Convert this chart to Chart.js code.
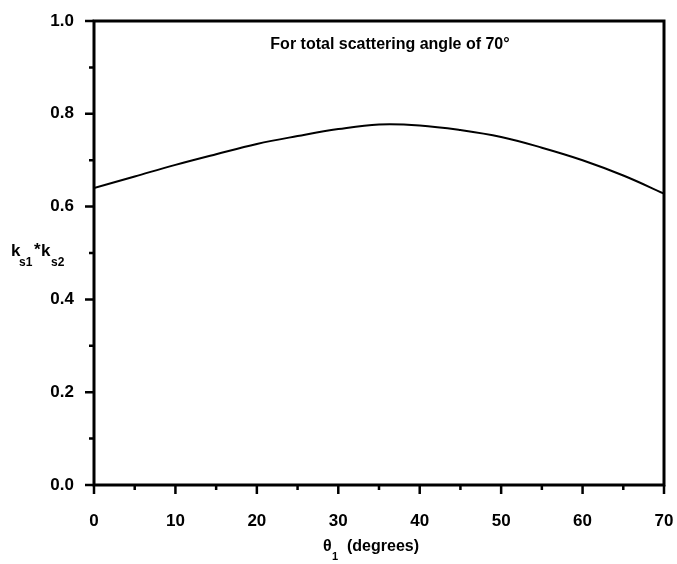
<!DOCTYPE html>
<html>
<head>
<meta charset="utf-8">
<script src="https://cdn.jsdelivr.net/npm/chart.js@4"></script>
<style>
  html, body { margin: 0; padding: 0; background: #fff; }
  #wrap { width: 677px; height: 564px; }
</style>
</head>
<body>
<div id="wrap"><canvas id="chart" width="677" height="564"></canvas></div>
<script>
// angles theta1 (degrees) and ks1*ks2 values
const theta = [0, 5, 10, 15, 20, 25, 30, 35, 40, 45, 50, 55, 60, 65, 70];
const product = [0.640, 0.665, 0.690, 0.713, 0.735, 0.752, 0.767, 0.777, 0.775, 0.765, 0.750, 0.727, 0.700, 0.667, 0.628];
const xTicks = [0, 10, 20, 30, 40, 50, 60, 70];
const yTicks = [0.0, 0.2, 0.4, 0.6, 0.8, 1.0];
const noteText = 'For total scattering angle of 70\u00B0';

const FONT = '"Liberation Sans", Arial, sans-serif';

// frame, tick marks and the labels with subscripts
const framePlugin = {
    id: 'frame',
    afterDraw(chart) {
        const ctx = chart.ctx;
        const area = chart.chartArea;
        const xs = chart.scales.x;
        const ys = chart.scales.y;
        ctx.save();
        ctx.strokeStyle = '#000';
        ctx.lineWidth = 3;
        ctx.strokeRect(area.left, area.top, area.right - area.left, area.bottom - area.top);

        ctx.lineWidth = 2.5;
        ctx.beginPath();
        xs.ticks.forEach(t => {
            const px = xs.getPixelForValue(t.value);
            const len = xTicks.includes(t.value) ? 9 : 5;
            ctx.moveTo(px, area.bottom);
            ctx.lineTo(px, area.bottom + len);
        });
        ys.ticks.forEach(t => {
            const py = ys.getPixelForValue(t.value);
            const major = yTicks.some(v => Math.abs(v - t.value) < 1e-6);
            const len = major ? 9 : 5;
            ctx.moveTo(area.left, py);
            ctx.lineTo(area.left - len, py);
        });
        ctx.stroke();

        ctx.fillStyle = '#000';
        ctx.textBaseline = 'alphabetic';
        ctx.textAlign = 'center';
        ctx.font = 'bold 16px ' + FONT;
        ctx.fillText(noteText, 390, 49);

        // y title: k_s1 * k_s2
        ctx.textAlign = 'left';
        ctx.font = 'bold 17px ' + FONT;
        ctx.fillText('k', 11, 256);
        ctx.fillText('*', 34, 255);
        ctx.fillText('k', 41, 256);
        ctx.font = 'bold 12px ' + FONT;
        ctx.fillText('s1', 19, 266);
        ctx.fillText('s2', 51, 266);

        // x title: theta_1 (degrees)
        ctx.font = 'bold 16px ' + FONT;
        ctx.fillText('\u03B8', 323, 551);
        ctx.fillText('(degrees)', 347, 551);
        ctx.font = 'bold 11px ' + FONT;
        ctx.fillText('1', 332, 560);
        ctx.restore();
    }
};

new Chart(document.getElementById('chart').getContext('2d'), {
    type: 'line',
    data: {
        labels: theta,
        datasets: [{
            data: theta.map((t, i) => ({ x: t, y: product[i] })),
            borderColor: '#000',
            borderWidth: 2,
            pointRadius: 0,
            tension: 0.4,
            fill: false
        }]
    },
    options: {
        responsive: false,
        animation: false,
        layout: { padding: { top: 21, right: 13, left: 0, bottom: 0 } },
        plugins: {
            legend: { display: false },
            tooltip: { enabled: false }
        },
        scales: {
            x: {
                type: 'linear',
                min: 0,
                max: 70,
                grid: { display: false },
                border: { display: false },
                afterFit: scale => {
                    scale.height = 79;
                    scale.paddingLeft = 0;
                    scale.paddingRight = 0;
                },
                ticks: {
                    stepSize: 5,
                    autoSkip: false,
                    maxRotation: 0,
                    padding: 18,
                    color: '#000',
                    font: { family: FONT, size: 17, weight: 'bold' },
                    callback: v => xTicks.includes(v) ? String(v) : ''
                }
            },
            y: {
                min: 0,
                max: 1,
                grid: { display: false },
                border: { display: false },
                afterFit: scale => {
                    scale.width = 94;
                    scale.paddingTop = 0;
                    scale.paddingBottom = 0;
                },
                ticks: {
                    stepSize: 0.1,
                    autoSkip: false,
                    padding: 12,
                    color: '#000',
                    font: { family: FONT, size: 17, weight: 'bold' },
                    callback: v => yTicks.some(t => Math.abs(t - v) < 1e-6) ? v.toFixed(1) : ''
                }
            }
        }
    },
    plugins: [framePlugin]
});
</script>
</body>
</html>
